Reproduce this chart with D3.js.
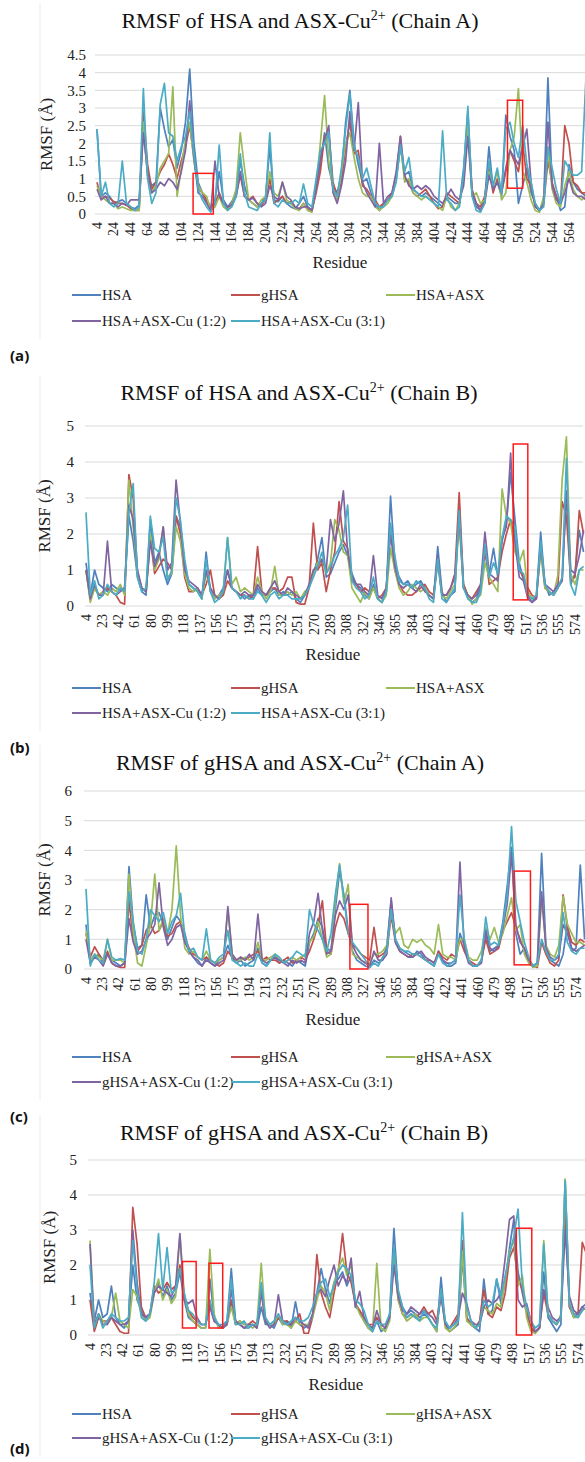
<!DOCTYPE html>
<html lang="en">
<head>
<meta charset="UTF-8" />
<title>RMSF</title>
<script src="https://cdnjs.cloudflare.com/ajax/libs/d3/7.8.5/d3.min.js"></script>
<style>
  body { margin: 0; background: #fff; }
  svg { display: block; }
  svg text { font-family: "Liberation Serif", "DejaVu Serif", serif; fill: #222; }
  svg text.letter { font-family: "Open Sans", "DejaVu Sans", sans-serif; font-weight: bold; fill: #111; }
</style>
</head>
<body>
<div id="chart"></div>
<script>
// residue grid every 5 residues (4 .. 584)
const residues = d3.range(4, 585, 5);

const colors = ["#4F81BD", "#C0504D", "#9BBB59", "#8064A2", "#4BACC6"];
const namesHSA = ["HSA", "gHSA", "HSA+ASX", "HSA+ASX-Cu (1:2)", "HSA+ASX-Cu (3:1)"];
const namesGHSA = ["HSA", "gHSA", "gHSA+ASX", "gHSA+ASX-Cu (1:2)", "gHSA+ASX-Cu (3:1)"];

const ticksA = ["4","24","44","64","84","104","124","144","164","184","204","224","244","264","284","304","324","344","364","384","404","424","444","464","484","504","524","544","564"];
const ticksB = ["4","23","42","61","80","99","118","137","156","175","194","213","232","251","270","289","308","327","346","365","384","403","422","441","460","479","498","517","536","555","574"];

const yTicksA = [0, 0.5, 1, 1.5, 2, 2.5, 3, 3.5, 4, 4.5];
const yTicksB = [0, 1, 2, 3, 4, 5];
const yTicksC = [0, 1, 2, 3, 4, 5, 6];
const yTicksD = [0, 1, 2, 3, 4, 5];

// ---- (a) HSA chain A
const aHSA = [2.4,0.5,0.6,0.5,0.3,0.35,0.4,0.3,0.2,0.15, 0.25,2.5,1.1,0.8,0.9,3.0,2.4,1.9,2.1,1.3, 1.8,2.6,4.1,2.0,0.9,0.6,0.35,0.15,0.4,1.2, 0.4,0.2,0.35,0.6,1.5,0.8,0.4,0.3,0.2,0.3, 0.5,1.9,0.4,0.35,0.5,0.3,0.2,0.15,0.3,0.5, 0.2,0.1,0.7,1.4,2.3,1.3,0.8,0.6,1.1,2.6, 3.5,2.0,1.4,0.9,1.0,0.6,0.3,0.1,0.3,0.4, 0.5,1.0,1.9,1.1,1.2,0.7,0.6,0.5,0.6,0.5, 0.4,0.3,0.2,0.5,0.4,0.3,0.3,1.3,2.9,0.6, 0.2,0.1,0.4,1.9,0.7,0.9,0.5,2.8,2.2,1.8, 0.3,0.8,1.3,0.6,0.3,0.1,0.4,3.85,0.8,0.5, 0.1,0.2,1.4,0.9,0.7,0.6,0.5];
const aGHSA = [0.9,0.45,0.5,0.45,0.35,0.3,0.3,0.25,0.15,0.1, 0.1,2.9,1.4,0.7,0.9,1.2,1.4,1.7,1.4,1.0, 1.5,1.9,2.5,1.6,0.75,0.6,0.4,0.2,0.3,0.6, 0.3,0.15,0.3,0.5,1.1,0.5,0.4,0.5,0.3,0.25, 0.4,1.0,0.3,0.4,0.5,0.3,0.35,0.2,0.15,0.3, 0.15,0.1,0.6,1.2,2.2,2.3,0.9,0.5,0.9,1.9, 2.6,1.7,1.8,0.8,0.7,0.5,0.4,0.2,0.3,0.4, 0.6,1.1,2.2,1.0,0.9,0.6,0.5,0.6,0.7,0.5, 0.3,0.15,0.2,0.6,0.5,0.4,0.3,1.0,2.5,0.7, 0.3,0.2,0.5,1.3,0.6,1.0,0.6,1.2,1.8,1.5, 1.2,2.0,1.0,0.8,0.2,0.1,0.3,1.5,0.9,0.5, 0.3,2.5,2.0,0.9,0.8,0.6,0.6];
const aASX = [0.8,0.5,0.4,0.3,0.3,0.15,0.2,0.15,0.1,0.1, 0.1,2.6,1.1,0.6,0.8,1.3,1.5,1.7,3.6,0.5, 1.3,2.1,2.6,1.5,0.8,0.6,0.5,0.1,0.2,0.5, 0.2,0.1,0.3,0.7,2.3,1.3,0.4,0.3,0.2,0.4, 0.5,1.2,0.6,0.5,0.9,0.4,0.3,0.15,0.1,0.3, 0.1,0.05,0.8,2.0,3.35,1.5,0.7,0.4,1.2,2.0, 2.3,1.6,1.0,0.6,0.5,0.5,0.2,0.1,0.2,0.3, 0.5,1.0,2.0,0.9,1.0,0.6,0.5,0.4,0.5,0.4, 0.3,0.2,0.1,0.5,0.2,0.1,0.3,1.0,2.5,0.5, 0.6,0.3,0.4,1.2,0.8,1.2,0.4,0.6,1.8,2.2, 3.55,1.2,0.9,0.4,0.1,0.05,0.5,1.8,0.7,0.3, 0.2,0.8,1.2,0.7,0.5,0.4,0.5];
const aCu12 = [0.7,0.4,0.5,0.3,0.3,0.2,0.3,0.25,0.4,0.4, 0.4,2.3,1.2,0.6,0.7,0.9,0.8,1.0,0.9,0.7, 1.2,1.8,3.2,1.6,0.6,0.5,0.3,0.1,1.5,0.5, 0.3,0.2,0.25,0.5,1.2,0.5,0.4,0.45,0.3,0.2, 0.3,0.8,0.5,0.4,0.9,0.5,0.4,0.2,0.15,0.2, 0.2,0.1,0.7,1.6,2.1,2.5,0.6,0.3,0.8,1.5, 2.9,1.8,3.15,0.9,0.6,0.4,0.2,2.0,0.3,0.5, 0.6,1.2,2.2,1.1,0.8,0.7,0.8,0.7,0.8,0.7, 0.5,0.4,0.3,0.5,0.7,0.5,0.4,0.8,2.2,0.6, 0.3,0.1,0.3,1.1,0.7,0.9,0.6,1.3,1.8,1.6, 1.4,1.9,2.4,0.9,0.2,0.1,0.3,2.6,0.8,0.4, 0.3,0.6,1.0,0.6,0.5,0.5,0.4];
const aCu31 = [2.4,0.5,0.9,0.3,0.2,0.3,1.5,0.3,0.2,0.1, 0.2,3.55,1.0,0.3,0.6,3.1,3.7,2.3,2.2,1.5, 1.9,2.2,2.9,1.7,0.7,0.4,0.2,0.05,0.3,1.95, 0.3,0.1,0.2,0.5,1.7,0.6,0.2,0.15,0.1,0.3, 0.4,2.3,0.3,0.2,0.4,0.3,0.3,0.4,0.3,0.85, 0.3,0.2,1.0,1.8,2.0,2.3,0.7,0.5,1.3,2.4, 3.4,1.9,1.6,1.0,1.3,0.8,0.3,0.2,0.2,0.4, 0.5,0.9,1.95,1.2,1.6,0.7,0.6,0.5,0.5,0.4, 0.3,0.2,2.35,0.4,0.3,0.1,0.2,1.2,3.05,0.5, 0.1,0.05,0.3,1.5,0.8,1.3,0.6,2.4,2.6,2.0, 1.6,2.5,1.4,0.9,0.3,0.1,0.2,1.9,1.3,0.7, 0.3,1.5,1.3,1.1,1.1,1.2,3.8];

// ---- (b) HSA chain B
const bHSA = [1.2,0.3,1.0,0.6,0.5,0.4,0.6,0.5,0.45,0.5, 2.5,1.8,0.8,0.4,0.3,2.4,1.2,1.5,1.0,0.6, 0.9,2.5,2.2,1.2,0.6,0.5,0.4,0.2,1.5,0.4, 0.2,0.3,0.5,1.0,0.5,0.4,0.3,0.2,0.3,0.2, 0.5,0.3,0.3,0.4,0.5,0.3,0.4,0.3,0.4,0.2, 0.1,0.3,0.5,0.9,1.3,1.9,0.8,0.9,1.2,1.5, 1.7,1.4,0.9,0.6,0.5,0.3,0.2,0.6,0.2,0.1, 0.4,3.05,1.2,0.8,0.6,0.7,0.5,0.6,0.7,0.5, 0.3,0.2,1.65,0.4,0.1,0.3,0.4,2.7,0.6,0.3, 0.1,0.2,0.5,1.5,0.9,1.6,0.8,1.8,2.3,3.7, 2.4,1.2,0.7,0.3,0.1,0.3,2.05,0.6,0.3,0.4, 0.5,0.7,3.2,0.6,0.9,2.1,1.5];
const bGHSA = [1.0,0.2,0.5,0.3,0.4,0.5,0.4,0.3,0.1,0.05, 3.65,3.0,0.9,0.5,0.4,1.9,0.9,1.1,1.3,1.2, 1.0,2.5,2.0,0.8,0.4,0.4,0.5,0.3,0.6,1.0, 0.3,0.2,0.3,0.7,0.5,0.4,0.3,0.3,0.2,0.3, 1.65,0.4,0.3,0.5,0.5,0.4,0.5,0.8,0.8,0.1, 0.05,0.05,0.5,2.3,1.0,1.2,0.4,1.0,1.5,2.9, 1.8,1.6,0.7,0.6,0.4,0.5,0.4,0.5,0.2,0.3, 0.5,2.2,1.0,0.6,0.4,0.3,0.3,0.4,0.5,0.6, 0.4,0.3,1.2,0.3,0.3,0.5,0.9,3.15,0.6,0.3, 0.2,0.4,0.6,1.6,0.6,0.7,0.8,1.5,2.0,2.4, 1.8,1.0,0.8,0.5,0.3,0.2,1.6,0.5,0.4,0.3, 0.5,2.9,2.5,0.7,0.8,2.65,2.0];
const bASX = [1.0,0.1,0.5,0.3,0.4,0.3,0.5,0.4,0.6,0.3, 3.5,2.2,0.9,0.5,0.4,2.0,1.0,1.3,2.2,0.8, 0.9,2.2,1.8,0.9,0.5,0.4,0.5,0.2,0.9,0.5, 0.2,0.3,0.4,1.9,0.6,0.8,0.4,0.5,0.4,0.3, 0.8,0.4,0.2,0.4,1.1,0.3,0.3,0.4,0.3,0.4, 0.2,0.4,0.5,0.9,1.2,1.3,0.9,1.2,2.4,2.1, 1.5,1.4,0.5,0.3,0.1,0.4,0.2,0.5,0.2,0.1, 0.3,1.6,1.0,0.5,0.3,0.4,0.6,0.5,0.4,0.5, 0.3,0.2,1.3,0.3,0.2,0.4,0.6,2.3,0.5,0.3, 0.05,0.2,0.3,1.2,0.8,0.6,0.4,3.25,2.5,2.3, 1.5,1.2,1.55,0.4,0.2,0.3,1.5,0.5,0.4,0.3, 0.85,3.5,4.7,0.9,0.6,1.0,1.0];
const bCu12 = [1.0,0.2,0.6,0.3,0.3,1.8,0.4,0.3,0.4,0.5, 2.8,2.4,1.0,0.5,0.4,1.8,1.1,1.4,2.2,1.0, 1.2,3.5,2.3,1.0,0.7,0.6,0.5,0.3,1.0,0.5, 0.3,0.2,0.4,1.0,0.5,0.4,0.3,0.4,0.3,0.3, 0.6,0.4,0.3,0.5,0.7,0.4,0.3,0.5,0.4,0.3, 0.2,0.3,0.6,1.0,1.1,1.3,1.0,2.4,1.8,2.3, 3.2,1.5,0.8,0.6,0.6,0.4,0.3,1.4,0.3,0.2, 0.5,2.0,1.1,0.6,0.5,0.6,0.5,0.4,0.6,0.4, 0.3,0.2,1.4,0.3,0.3,0.5,0.8,2.5,0.5,0.3, 0.2,0.3,0.6,2.05,0.9,0.8,0.7,1.9,2.2,4.25, 1.8,0.8,0.7,0.2,0.1,0.2,1.7,0.6,0.5,0.4, 0.6,0.7,3.2,1.0,0.9,1.4,2.1];
const bCu31 = [2.6,0.3,0.7,0.2,0.3,0.6,0.4,0.3,0.5,0.4, 2.6,3.4,0.8,0.4,0.5,2.5,1.6,1.5,1.9,0.7, 1.0,3.0,2.4,1.3,0.6,0.5,0.4,0.2,1.3,0.4, 0.1,0.2,0.4,1.9,0.5,0.4,0.2,0.3,0.2,0.2, 0.4,0.3,0.1,0.3,0.4,0.2,0.3,0.3,0.2,0.2, 0.2,0.3,0.5,0.8,1.1,1.5,0.9,1.1,1.4,1.6, 1.9,2.8,0.7,0.5,0.4,0.2,0.3,0.8,0.2,0.1, 0.4,2.3,1.4,0.7,0.6,0.6,0.5,0.7,0.6,0.5, 0.2,0.1,1.3,0.2,0.1,0.3,0.5,2.65,0.5,0.2, 0.1,0.1,0.4,1.7,0.8,1.2,0.9,1.9,2.5,2.4, 2.2,1.0,0.9,0.3,0.2,0.3,1.8,0.6,0.4,0.3, 0.5,0.8,4.1,0.6,0.3,1.0,1.1];

// ---- (c) gHSA chain A
const cHSA = [1.5,0.2,0.4,0.5,0.3,0.5,0.3,0.2,0.1,0.2, 3.45,1.5,0.7,0.8,2.5,1.4,1.8,1.9,1.5,1.0, 1.4,1.8,1.6,1.2,0.6,0.4,0.2,0.1,0.4,0.2, 0.1,0.3,0.4,0.8,0.4,0.2,0.3,0.1,0.2,0.3, 0.7,0.2,0.1,0.3,0.4,0.2,0.3,0.2,0.1,0.3, 0.2,0.1,0.9,1.2,1.7,1.4,0.7,0.6,2.0,3.3, 2.5,1.3,0.6,0.3,0.2,0.1,0.05,0.3,0.2,0.3, 0.8,2.3,1.0,0.7,0.6,0.5,0.4,0.6,0.5,0.3, 0.2,0.1,0.6,0.3,0.1,0.1,0.2,1.2,0.8,0.3, 0.1,0.1,0.3,1.2,0.6,0.7,0.8,1.6,2.8,4.1, 1.2,0.5,0.7,0.3,0.1,0.2,3.9,0.8,0.3,0.2, 0.1,0.5,1.5,0.6,0.7,3.5,1.0];
const cGHSA = [1.2,0.4,0.75,0.5,0.2,0.6,0.2,0.1,0.05,0.05, 2.3,1.0,0.6,0.8,1.3,1.5,1.2,1.3,1.6,1.1, 1.2,1.5,1.6,1.0,0.7,0.5,0.4,0.3,0.4,0.3, 0.2,0.1,0.2,0.6,0.4,0.3,0.4,0.3,0.4,0.5, 0.6,0.3,0.4,0.3,0.3,0.2,0.3,0.4,0.2,0.3, 0.4,0.3,0.6,1.0,1.5,2.3,0.6,0.5,1.4,1.9, 1.7,1.2,0.8,0.7,0.5,0.4,0.3,1.4,0.4,0.5, 0.6,1.8,0.9,0.6,0.5,0.4,0.5,0.5,0.4,0.3, 0.3,0.2,0.6,0.4,0.3,0.5,0.4,1.0,0.6,0.3, 0.2,0.1,0.3,1.0,0.5,0.6,0.7,1.3,1.6,1.9, 1.4,1.0,0.6,0.3,0.1,0.05,0.9,0.5,0.2,0.1, 0.3,2.5,1.4,0.9,0.8,1.0,0.9];
const cASX = [1.3,0.3,0.5,0.4,0.3,1.0,0.3,0.3,0.3,0.2, 3.2,1.2,0.2,0.1,0.8,1.5,3.2,1.3,1.7,1.2, 2.0,4.15,1.8,0.7,0.5,0.6,0.4,0.3,0.6,0.3, 0.2,0.3,0.4,2.0,0.5,0.3,0.3,0.4,0.3,0.4, 0.9,0.3,0.3,0.4,0.5,0.3,0.2,0.3,0.4,0.3, 0.4,0.5,0.9,1.1,1.6,1.0,0.4,0.5,2.3,3.55, 2.2,2.85,0.5,0.4,0.3,0.2,0.2,0.5,0.5,0.6, 0.8,1.9,1.2,1.4,0.8,0.7,1.0,0.9,1.0,0.8, 0.7,0.5,1.5,0.5,0.4,0.4,0.3,1.0,1.0,0.4, 0.3,0.3,0.6,1.4,1.0,1.4,0.9,1.2,1.8,2.4, 1.3,1.5,0.5,0.2,0.05,0.1,2.4,0.8,0.5,0.4, 0.8,2.45,1.5,1.2,0.9,0.9,0.8];
const cCu12 = [1.0,0.2,0.4,0.3,0.1,0.5,0.2,0.1,0.1,0.2, 1.7,0.9,0.5,0.6,1.0,1.2,1.5,2.9,1.4,0.8, 1.0,1.4,1.5,0.9,0.6,0.4,0.3,0.1,0.3,0.2, 0.1,0.2,0.3,2.1,0.5,0.3,0.4,0.3,0.5,0.3, 1.85,0.3,0.2,0.3,0.4,0.3,0.2,0.1,0.3,0.2, 0.3,0.2,1.2,1.6,2.55,1.3,0.5,0.6,1.8,2.3, 2.0,2.5,0.8,0.5,0.3,0.2,0.1,0.6,0.3,0.3, 0.5,2.4,0.9,0.6,0.5,0.4,0.4,0.5,0.6,0.4, 0.3,0.2,0.5,0.3,0.2,0.2,0.3,3.6,0.7,0.2, 0.1,0.1,0.2,1.3,0.7,0.6,0.8,1.4,2.2,3.9, 1.5,0.9,0.7,0.3,0.1,0.2,2.6,0.7,0.4,0.3, 0.4,1.5,1.2,0.7,0.6,0.7,0.8];
const cCu31 = [2.7,0.1,0.5,0.3,0.2,1.0,0.4,0.3,0.35,0.3, 2.6,1.6,0.6,0.5,1.0,2.0,1.8,1.6,1.9,1.2, 1.6,1.8,2.55,1.1,0.6,0.7,0.4,0.3,1.35,0.3, 0.2,0.4,0.5,1.3,0.3,0.2,0.1,0.2,0.1,0.1, 0.5,0.2,0.1,0.3,0.5,0.4,0.2,0.3,0.4,0.6, 0.5,0.4,2.0,1.5,1.3,1.0,0.6,1.2,2.5,3.5, 2.4,1.2,0.9,0.7,0.5,0.3,0.05,0.2,0.1,0.4, 0.6,2.0,1.0,0.7,0.6,0.6,0.5,0.5,0.4,0.3, 0.2,0.1,0.5,0.2,0.1,0.2,0.3,2.5,1.0,0.3, 0.1,0.1,0.3,1.75,0.8,0.9,0.8,1.5,2.5,4.8, 2.3,1.6,0.9,0.4,0.1,0.2,1.0,0.6,0.3,0.3, 0.5,1.9,0.9,0.6,0.5,0.7,0.7];

// ---- (d) gHSA chain B
const dHSA = [1.2,0.4,1.0,0.5,0.6,1.4,0.5,0.3,0.2,0.4, 2.0,1.0,0.7,0.5,0.6,1.3,1.5,1.1,1.4,1.0, 1.2,1.8,1.0,0.5,0.4,0.3,0.2,0.2,1.6,0.5, 0.3,0.2,0.4,1.9,0.4,0.3,0.2,0.2,0.3,0.2, 0.8,0.3,0.3,0.2,0.5,0.3,0.4,0.2,0.95,0.3, 0.2,0.3,0.6,1.2,1.9,1.3,0.9,1.5,1.6,1.8, 1.4,1.7,0.8,0.7,0.4,0.2,0.1,0.4,0.1,0.2, 0.6,3.05,1.2,0.8,0.6,0.7,0.6,0.5,0.6,0.5, 0.3,0.1,1.65,0.3,0.1,0.2,0.3,2.2,0.5,0.3, 0.2,0.1,1.6,0.6,0.7,1.6,0.9,1.5,2.5,3.3, 1.8,1.2,0.6,0.2,0.05,0.2,1.8,0.5,0.3,0.1, 0.3,4.45,0.8,0.5,0.6,0.8,0.9];
const dGHSA = [1.0,0.1,0.5,0.4,0.4,0.5,0.3,0.1,0.05,0.05, 3.65,2.6,0.8,0.5,0.6,1.4,1.2,1.3,1.5,1.3, 1.4,2.0,1.1,0.7,0.5,0.4,0.3,0.3,0.9,0.4, 0.3,0.2,0.3,1.0,0.3,0.4,0.3,0.3,0.4,0.3, 1.2,0.4,0.3,0.3,0.5,0.4,0.4,0.3,0.4,0.6, 0.05,0.05,0.5,2.3,1.2,0.8,0.5,1.2,1.8,2.9, 1.8,1.5,0.9,0.7,0.5,0.3,0.3,0.5,0.3,0.3, 0.5,2.2,1.0,0.6,0.5,0.6,0.5,0.6,0.8,0.6, 0.7,0.4,1.2,0.3,0.2,0.4,0.6,2.7,0.5,0.3, 0.2,0.4,1.3,0.6,0.5,0.8,0.7,1.2,2.2,2.5, 1.6,1.3,0.7,0.2,0.1,0.2,1.2,0.6,0.4,0.3, 0.5,3.5,0.8,0.6,0.6,2.65,2.3];
const dASX = [2.7,0.3,0.6,0.4,0.3,0.5,1.2,0.4,0.3,0.2, 1.3,1.1,0.6,0.4,0.5,1.2,1.6,1.0,1.3,0.9, 1.1,2.85,1.2,0.6,0.4,0.3,0.2,0.2,2.45,0.6, 0.2,0.2,0.3,0.8,0.3,0.4,0.3,0.3,0.2,0.3, 2.05,0.4,0.3,0.3,0.6,0.3,0.3,0.2,0.4,0.3, 0.3,0.3,0.5,1.0,1.4,1.2,0.7,1.5,1.9,2.2, 1.7,2.0,0.9,0.6,0.4,0.2,0.1,2.05,0.2,0.1, 0.4,2.45,1.0,0.6,0.4,0.5,0.6,0.4,0.5,0.5, 0.3,0.1,1.3,0.2,0.1,0.2,0.4,2.4,0.4,0.3, 0.2,0.3,0.8,0.7,0.6,0.9,0.8,1.6,2.4,2.7, 1.4,1.7,0.5,0.1,0.05,0.2,2.7,0.6,0.4,0.3, 0.6,4.45,0.9,0.5,0.5,0.7,0.8];
const dCu12 = [2.6,0.3,0.6,0.3,0.3,0.5,0.4,0.3,0.3,0.4, 3.0,1.5,0.6,0.5,0.6,1.2,1.4,1.3,1.2,1.1, 1.4,2.9,1.0,0.9,1.0,0.5,0.3,0.3,0.8,0.4, 0.3,0.2,0.3,1.3,0.4,0.3,0.2,0.3,0.3,0.2, 1.3,0.4,0.2,0.3,1.15,0.4,0.3,0.3,0.5,0.4, 0.3,0.2,0.6,1.2,1.3,1.1,1.6,2.0,1.4,1.7, 1.5,2.2,0.8,1.25,0.5,0.3,0.2,0.7,0.3,0.2, 0.5,2.0,1.1,0.7,0.6,0.8,0.7,0.6,0.7,0.6, 0.5,0.3,1.1,0.3,0.2,0.3,0.5,1.2,0.9,0.4, 0.3,0.3,0.8,1.0,0.9,1.0,1.2,2.2,3.3,3.4, 1.0,0.8,0.9,0.4,0.1,0.2,1.3,0.8,0.5,0.4, 0.5,3.0,1.1,0.7,0.6,0.8,0.7];
const dCu31 = [2.0,0.2,0.6,0.2,0.4,0.6,0.5,0.4,0.4,0.5, 2.7,1.3,0.5,0.4,0.6,1.5,2.9,1.3,2.5,1.2, 1.3,1.9,1.2,0.7,0.6,0.4,0.3,0.3,1.0,0.5, 0.3,0.3,0.4,1.6,0.3,0.3,0.4,0.2,0.3,0.3, 1.5,0.5,0.3,0.4,0.6,0.4,0.3,0.4,0.5,0.4, 0.4,0.5,0.8,1.2,1.5,1.6,1.1,1.4,1.8,2.0, 1.9,1.7,1.0,0.9,0.7,0.3,0.1,0.4,0.3,0.3, 0.6,2.5,1.3,0.8,0.5,0.6,0.5,0.4,0.7,0.5, 0.3,0.2,1.3,0.4,0.2,0.3,0.4,3.5,0.8,0.4, 0.2,0.3,1.0,0.8,0.9,1.6,1.1,1.7,2.3,2.8, 3.6,1.4,0.8,0.4,0.2,0.3,2.6,0.6,0.4,0.3, 0.5,4.4,0.9,0.6,0.5,0.7,0.8];

// highlight boxes: [residue from, residue to, RMSF low, RMSF high]
const boxesA = [[118, 142, 0, 1.15], [491, 509, 0.73, 3.22]];
const boxesB = [[502, 519, 0.17, 4.5]];
const boxesC = [[311, 332, 0, 2.18], [502, 521, 0.14, 3.3]];
const boxesD = [[112, 128, 0.2, 2.1], [143, 159, 0.2, 2.05], [502, 520, 0, 3.05]];

const W = 585, H = 1462;
const svg = d3.select("#chart").append("svg").attr("width", W).attr("height", H);

function drawPanel(p) {
    const g = svg.append("g");
    const x = d3.scaleLinear().domain([4, p.tickEnd]).range([p.x0, p.x1]);
    const y = d3.scaleLinear().domain([0, p.yMax]).range([p.y0, p.yTop]);

    // chart border hint
    g.append("line").attr("x1", 40).attr("x2", 40)
        .attr("y1", p.titleY - 25).attr("y2", p.legendY[1] + 18)
        .attr("stroke", "#ececec").attr("stroke-width", 1);

    // title
    const t = g.append("text").attr("x", p.titleX).attr("y", p.titleY)
        .attr("text-anchor", "middle").style("font-size", "22px").style("fill", "#111");
    t.append("tspan").text(p.title[0]);
    t.append("tspan").attr("dy", -8).style("font-size", "14px").text("2+");
    t.append("tspan").attr("dy", 8).text(p.title[1]);

    // grid
    g.selectAll(".grid").data(p.yTicks).join("line")
        .attr("x1", p.gridX0).attr("x2", p.gridX1)
        .attr("y1", d => y(d)).attr("y2", d => y(d))
        .attr("stroke", "#d9d9d9").attr("stroke-width", 1);

    g.selectAll(".ylab").data(p.yTicks).join("text")
        .attr("x", p.yLabX).attr("y", d => y(d)).attr("dy", "0.35em")
        .attr("text-anchor", "end").style("font-size", "15px")
        .text(d => d);

    // x tick labels (rotated)
    g.selectAll(".xlab").data(p.xTicks).join("text")
        .attr("transform", d => `translate(${x(+d) + 4.5},${p.y0 + 8}) rotate(-90)`)
        .attr("text-anchor", "end").style("font-size", "14px")
        .text(d => d);

    g.append("text").attr("x", p.resX).attr("y", p.resY).attr("text-anchor", "middle")
        .style("font-size", "17px").text("Residue");

    g.append("text").attr("transform", `translate(${p.axTitleX},${(p.y0 + p.yTop) / 2}) rotate(-90)`)
        .attr("text-anchor", "middle").style("font-size", "17px")
        .text("RMSF (Å)");

    // series
    const line = d3.line().x(d => x(d[0])).y(d => y(d[1]));
    p.series.forEach((vals, i) => {
        g.append("path").datum(residues.map((r, k) => [r, vals[k]]))
            .attr("d", line).attr("fill", "none")
            .attr("stroke", colors[i]).attr("stroke-width", 1.7)
            .attr("stroke-linejoin", "round");
    });

    // red boxes
    g.selectAll(".box").data(p.boxes).join("rect")
        .attr("x", d => x(d[0])).attr("y", d => y(d[3]))
        .attr("width", d => x(d[1]) - x(d[0])).attr("height", d => y(d[2]) - y(d[3]))
        .attr("fill", "none").attr("stroke", "#ff1a1a").attr("stroke-width", 1.5);

    // legend
    const lx = [[72, 231, 386], [72, 231]];
    p.names.forEach((n, i) => {
        const row = i < 3 ? 0 : 1, col = i < 3 ? i : i - 3;
        const xx = lx[row][col], yy = p.legendY[row];
        g.append("line").attr("x1", xx).attr("x2", xx + 29).attr("y1", yy).attr("y2", yy)
            .attr("stroke", colors[i]).attr("stroke-width", 2);
        g.append("text").attr("x", xx + 30).attr("y", yy).attr("dy", "0.35em")
            .style("font-size", "15px").text(n);
    });

    g.append("text").attr("class", "letter").attr("x", 10).attr("y", p.letterY).attr("dy", "0.35em")
        .style("font-size", "15px").text(p.letter);
}

const panels = [
    { title: ["RMSF of HSA and ASX-Cu", " (Chain A)"], titleX: 300, titleY: 28,
      yMax: 4.5, yTop: 55, y0: 214, yTicks: yTicksA, yLabX: 86,
      x0: 97, x1: 569, tickEnd: 564, xTicks: ticksA, gridX0: 95, gridX1: 585,
      resX: 340, resY: 268, axTitleX: 52, legendY: [295, 321], letterY: 356,
      series: [aHSA, aGHSA, aASX, aCu12, aCu31], names: namesHSA, boxes: boxesA, letter: "(a)" },
    { title: ["RMSF of HSA and ASX-Cu", " (Chain B)"], titleX: 299, titleY: 400,
      yMax: 5, yTop: 426, y0: 606, yTicks: yTicksB, yLabX: 74,
      x0: 86, x1: 575, tickEnd: 574, xTicks: ticksB, gridX0: 85, gridX1: 583,
      resX: 333, resY: 660, axTitleX: 50, legendY: [688, 713], letterY: 748,
      series: [bHSA, bGHSA, bASX, bCu12, bCu31], names: namesHSA, boxes: boxesB, letter: "(b)" },
    { title: ["RMSF of gHSA and ASX-Cu", " (Chain A)"], titleX: 300, titleY: 770,
      yMax: 6, yTop: 791, y0: 969, yTicks: yTicksC, yLabX: 72,
      x0: 86, x1: 576, tickEnd: 574, xTicks: ticksB, gridX0: 84, gridX1: 585,
      resX: 333, resY: 1025, axTitleX: 50, legendY: [1057, 1082], letterY: 1117,
      series: [cHSA, cGHSA, cASX, cCu12, cCu31], names: namesGHSA, boxes: boxesC, letter: "(c)" },
    { title: ["RMSF of gHSA and ASX-Cu", " (Chain B)"], titleX: 304, titleY: 1140,
      yMax: 5, yTop: 1160, y0: 1335, yTicks: yTicksD, yLabX: 77,
      x0: 90, x1: 578, tickEnd: 574, xTicks: ticksB, gridX0: 88, gridX1: 585,
      resX: 336, resY: 1390, axTitleX: 55, legendY: [1414, 1438], letterY: 1449,
      series: [dHSA, dGHSA, dASX, dCu12, dCu31], names: namesGHSA, boxes: boxesD, letter: "(d)" }
];

panels.forEach(drawPanel);
</script>
</body>
</html>
